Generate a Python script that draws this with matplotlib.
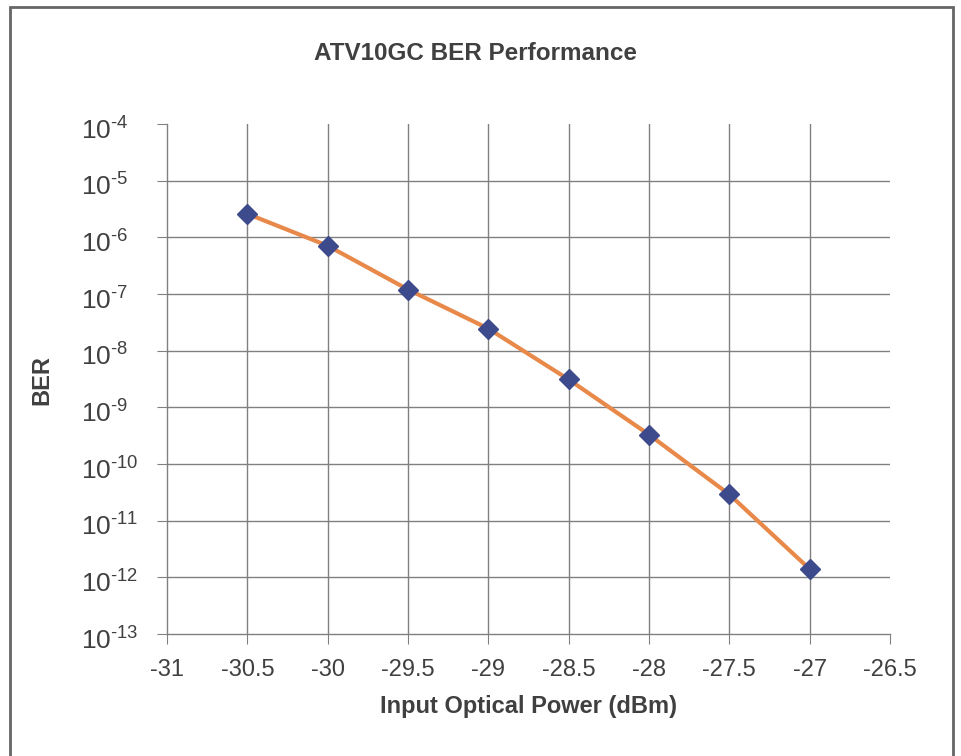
import matplotlib.pyplot as plt
from matplotlib.patches import Rectangle
from matplotlib.transforms import ScaledTranslation

plt.rcParams['font.family'] = ['Liberation Sans', 'DejaVu Sans']
plt.rcParams['mathtext.fontset'] = 'custom'
plt.rcParams['mathtext.rm'] = 'Liberation Sans'
plt.rcParams['axes.unicode_minus'] = False

# data
power_dbm = [-30.5, -30.0, -29.5, -29.0, -28.5, -28.0, -27.5, -27.0]
ber = [2.6e-6, 7.1e-7, 1.2e-7, 2.45e-8, 3.1e-9, 3.3e-10, 2.9e-11, 1.4e-12]
x_ticks = [-31, -30.5, -30, -29.5, -29, -28.5, -28, -27.5, -27, -26.5]
y_exponents = list(range(-13, -3))

text_col = '#404040'
grid_col = '#808080'

fig = plt.figure(figsize=(9.62, 7.56), dpi=100)
fig.patches.append(Rectangle((10 / 962, -0.05), 943 / 962, 1 - 7 / 756 + 0.05,
                             transform=fig.transFigure, fill=False,
                             edgecolor='#666666', linewidth=2))

ax = fig.add_axes([167 / 962, 1 - 634 / 756, 723 / 962, 510 / 756])
ax.set_yscale('log')
ax.set_xlim(-31, -26.5)
ax.set_ylim(1e-13, 1e-4)

# gridlines (none on the top / right edges)
for xv in x_ticks[1:-1]:
    ax.axvline(xv, color=grid_col, lw=1, zorder=1)
for e in y_exponents[1:-1]:
    ax.axhline(10.0 ** e, color=grid_col, lw=1, zorder=1)

ax.plot(power_dbm, ber, color='#E8894A', lw=3, zorder=3)
ax.plot(power_dbm, ber, linestyle='none', marker='D', markersize=10,
        color='#3D4B8C', zorder=4)

ax.set_xticks(x_ticks)
ax.set_xticklabels(['%g' % v for v in x_ticks])
ax.set_yticks([10.0 ** e for e in y_exponents])
ax.set_yticklabels([r'$\mathregular{10^{\text{-}%d}}$' % -e for e in y_exponents])
ax.yaxis.set_minor_locator(plt.NullLocator())

for s in ['top', 'right']:
    ax.spines[s].set_visible(False)
for s in ['left', 'bottom']:
    ax.spines[s].set_color(grid_col)
    ax.spines[s].set_linewidth(1)

ax.tick_params(axis='x', direction='out', length=7, color=grid_col,
               labelsize=17, labelcolor=text_col, pad=11)
ax.tick_params(axis='y', direction='out', length=7, color=grid_col,
               labelsize=19, labelcolor=text_col, pad=55)
shift = ScaledTranslation(0, -4 / 100, fig.dpi_scale_trans)
for lab in ax.get_yticklabels():
    lab.set_horizontalalignment('left')
    lab.set_transform(lab.get_transform() + shift)

fig.text(42 / 962, 1 - 380 / 756, 'BER', fontsize=17, fontweight='bold',
         color=text_col, ha='center', va='center', rotation=90)
fig.text(528 / 962, 1 - 706 / 756, 'Input Optical Power (dBm)', fontsize=17,
         fontweight='bold', color=text_col, ha='center', va='center')
fig.text(476 / 962, 1 - 53 / 756, 'ATV10GC BER Performance', fontsize=17.5,
         fontweight='bold', color=text_col, ha='center', va='center')

fig.savefig('out.png', dpi=100)
